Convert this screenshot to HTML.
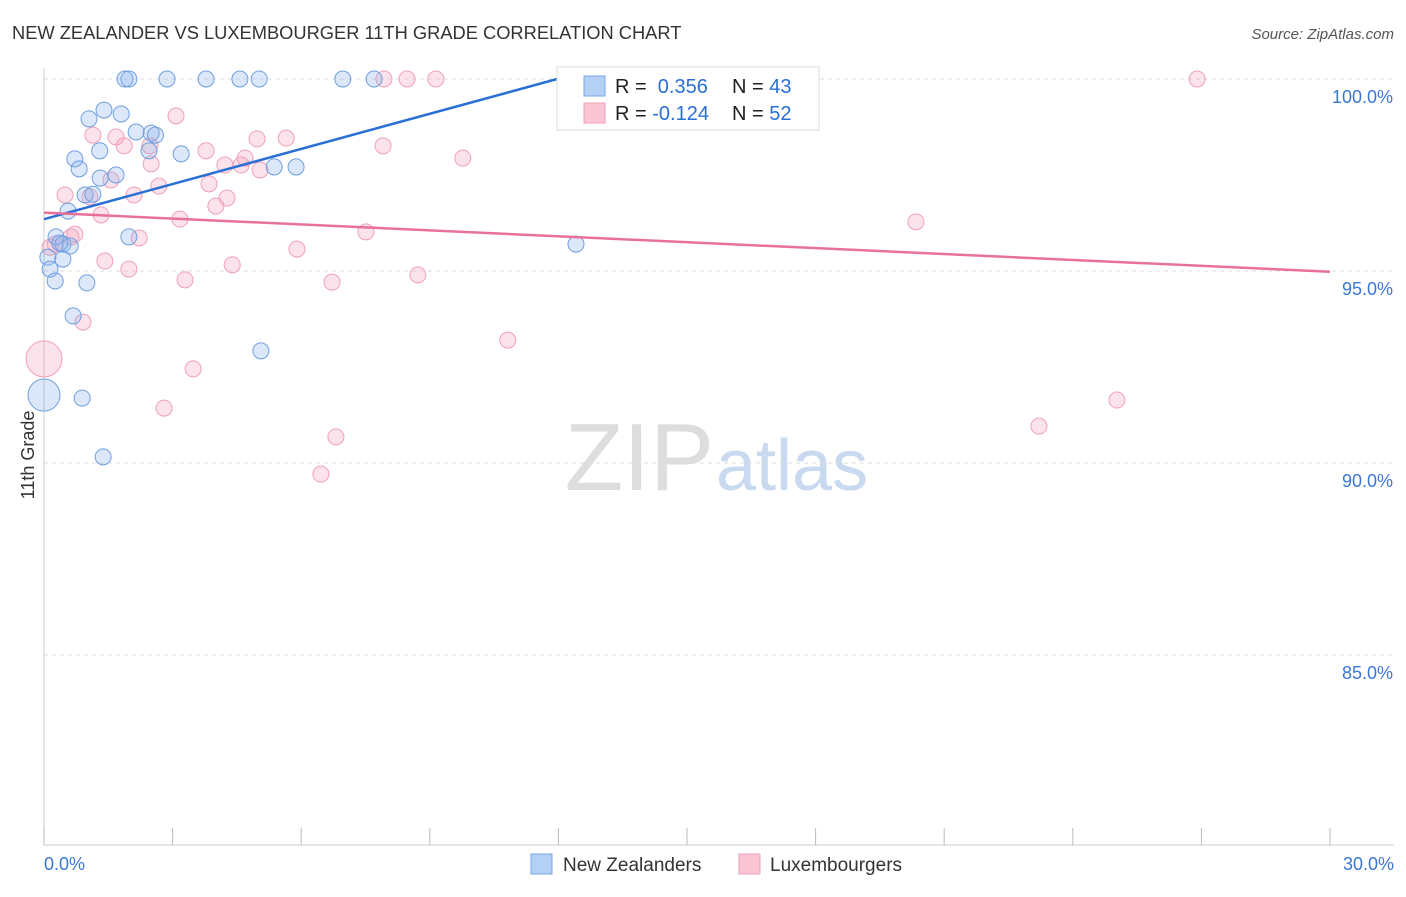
<!DOCTYPE html>
<html><head><meta charset="utf-8"><style>
body{margin:0;background:#fff;font-family:"Liberation Sans",sans-serif;}
svg text{font-family:"Liberation Sans",sans-serif;}
</style></head><body>
<svg id="c" width="1406" height="892" xmlns="http://www.w3.org/2000/svg">
<text x="12" y="39" font-size="18.3" fill="#333">NEW ZEALANDER VS LUXEMBOURGER 11TH GRADE CORRELATION CHART</text>
<text x="1394" y="39" font-size="15" fill="#555" font-style="italic" text-anchor="end">Source: ZipAtlas.com</text>
<text x="714" y="490" font-size="96" fill="#ddd" text-anchor="end" font-family="Liberation Serif">ZIP</text>
<text x="716" y="490" font-size="72" fill="#c9d9f0">atlas</text>
<text transform="translate(34,455) rotate(-90)" font-size="18" fill="#333" text-anchor="middle">11th Grade</text>
<g id="grid"></g><g id="pts"></g><g id="lines"></g>
<g>
<rect x="557" y="67" width="262" height="63" fill="#fff" stroke="#ddd"/>
<rect x="584" y="76" width="21" height="20" fill="#b5d0f5" stroke="#7aa6e6"/>
<rect x="584" y="103" width="21" height="20" fill="#fac6d5" stroke="#f0a0b8"/>
<text x="615" y="93" font-size="20" fill="#222">R = <tspan fill="#2a6fd6">&#160;0.356</tspan></text>
<text x="732" y="93" font-size="20" fill="#222">N = <tspan fill="#2a6fd6">43</tspan></text>
<text x="615" y="120" font-size="20" fill="#222">R = <tspan fill="#2a6fd6">-0.124</tspan></text>
<text x="732" y="120" font-size="20" fill="#222">N = <tspan fill="#2a6fd6">52</tspan></text>
</g>
<g>
<rect x="531" y="854" width="21" height="20" fill="#b5d0f5" stroke="#7aa6e6"/>
<text x="563" y="871" font-size="19" fill="#333">New Zealanders</text>
<rect x="739" y="854" width="21" height="20" fill="#fac6d5" stroke="#f0a0b8"/>
<text x="770" y="871" font-size="19" fill="#333">Luxembourgers</text>
</g>
</svg>
<script>
const yTicks=[100,95,90,85];
const yTickLabels=["100.0%","95.0%","90.0%","85.0%"];
const xTicks=[0,3,6,9,12,15,18,21,24,27,30];
const blueX=[1.89,1.98,2.87,3.78,4.57,5.02,6.97,7.70,12.46,1.4,1.8,1.05,2.15,2.5,2.6,1.3,2.45,3.2,0.72,0.82,5.37,5.88,1.68,1.31,0.96,1.14,0.56,1.98,0.28,0.44,0.61,0.09,0.44,0.14,0.26,1.0,0.68,5.06,0.0,0.89,1.38,12.41,0.37];
const blueY=[100,100,100,100,100,100,100,100,100,99.19,99.09,98.96,98.62,98.59,98.54,98.13,98.13,98.05,97.92,97.66,97.71,97.71,97.5,97.42,96.98,97.0,96.56,95.89,95.89,95.7,95.65,95.36,95.31,95.05,94.74,94.69,93.83,92.92,91.77,91.69,90.16,95.7,95.73];
const blueR=[8,8,8,8,8,8,8,8,8,8,8,8,8,8,8,8,8,8,8,8,8,8,8,8,8,8,8,8,8,8,8,8,8,8,8,8,8,8,16,8,8,8,8];
const pinkX=[7.93,8.47,9.14,26.9,3.08,1.14,1.68,5.65,4.97,1.87,2.47,3.78,7.91,9.77,4.69,4.22,4.6,2.5,5.04,1.56,2.68,3.85,4.27,2.1,0.49,1.07,4.01,1.33,3.17,20.34,0.72,0.63,2.22,7.51,0.26,5.9,1.42,4.39,1.98,8.72,3.29,6.72,0.91,0.0,10.82,3.48,25.03,2.8,23.21,6.81,6.46,0.14];
const pinkY=[100,100,100,100,99.04,98.54,98.49,98.46,98.44,98.26,98.26,98.13,98.26,97.94,97.94,97.76,97.76,97.79,97.63,97.37,97.21,97.27,96.9,96.98,96.98,96.93,96.69,96.46,96.35,96.28,95.96,95.89,95.86,96.02,95.7,95.57,95.26,95.16,95.05,94.9,94.77,94.71,93.67,92.71,93.2,92.45,91.64,91.43,90.96,90.68,89.71,95.62];
const pinkR=[8,8,8,8,8,8,8,8,8,8,8,8,8,8,8,8,8,8,8,8,8,8,8,8,8,8,8,8,8,8,8,8,8,8,8,8,8,8,8,8,8,8,8,18,8,8,8,8,8,8,8,8];
const blueTrend=[[0,96.35],[11.97,100]];
const pinkTrend=[[0,96.52],[30,94.98]];
const NS="http://www.w3.org/2000/svg";
const sx=v=>44+v/30*1286, sy=v=>79+(100-v)*38.4;
function mk(t,a,p){const e=document.createElementNS(NS,t);for(const k in a)e.setAttribute(k,a[k]);p.appendChild(e);return e;}
const g=document.getElementById('grid');
const ax=mk('line',{x1:44,y1:68,x2:44,y2:845,stroke:'#ccc'},g);


const bx=mk('line',{x1:44,y1:845,x2:1394,y2:845,stroke:'#ccc'},g);


yTicks.forEach((v,i)=>{
 const l=mk('line',{x1:44,y1:sy(v),x2:1394,y2:sy(v),stroke:'#ddd','stroke-dasharray':'4,4'},g);
 
 
 const t=mk('text',{x:1393,y:sy(v)+24,'font-size':18,fill:'#3a78d8','text-anchor':'end'},g);t.textContent=yTickLabels[i];
 
 
});
xTicks.forEach(v=>{
 const l=mk('line',{x1:sx(v),y1:828,x2:sx(v),y2:845,stroke:'#bbb'},g);
 
 
});
const t0=mk('text',{x:44,y:870,'font-size':18,fill:'#3a78d8'},g);t0.textContent='0.0%';


const t1=mk('text',{x:1394,y:870,'font-size':18,fill:'#3a78d8','text-anchor':'end'},g);t1.textContent='30.0%';


const p=document.getElementById('pts');
pinkX.forEach((x,i)=>{const c=mk('circle',{cx:sx(x),cy:sy(pinkY[i]),r:pinkR[i],fill:'rgba(245,160,185,0.3)',stroke:'#f0a0b8','stroke-width':1},p);
 
 });
blueX.forEach((x,i)=>{const c=mk('circle',{cx:sx(x),cy:sy(blueY[i]),r:blueR[i],fill:'rgba(140,180,235,0.3)',stroke:'#6f9ee0','stroke-width':1},p);
 
 });
const L=document.getElementById('lines');
const bl=mk('line',{x1:sx(blueTrend[0][0]),y1:sy(blueTrend[0][1]),x2:sx(blueTrend[1][0]),y2:sy(blueTrend[1][1]),stroke:'#2a6fd6','stroke-width':2.5},L);


const pl=mk('line',{x1:sx(pinkTrend[0][0]),y1:sy(pinkTrend[0][1]),x2:sx(pinkTrend[1][0]),y2:sy(pinkTrend[1][1]),stroke:'#e8719a','stroke-width':2.5},L);


</script>
</body></html>
